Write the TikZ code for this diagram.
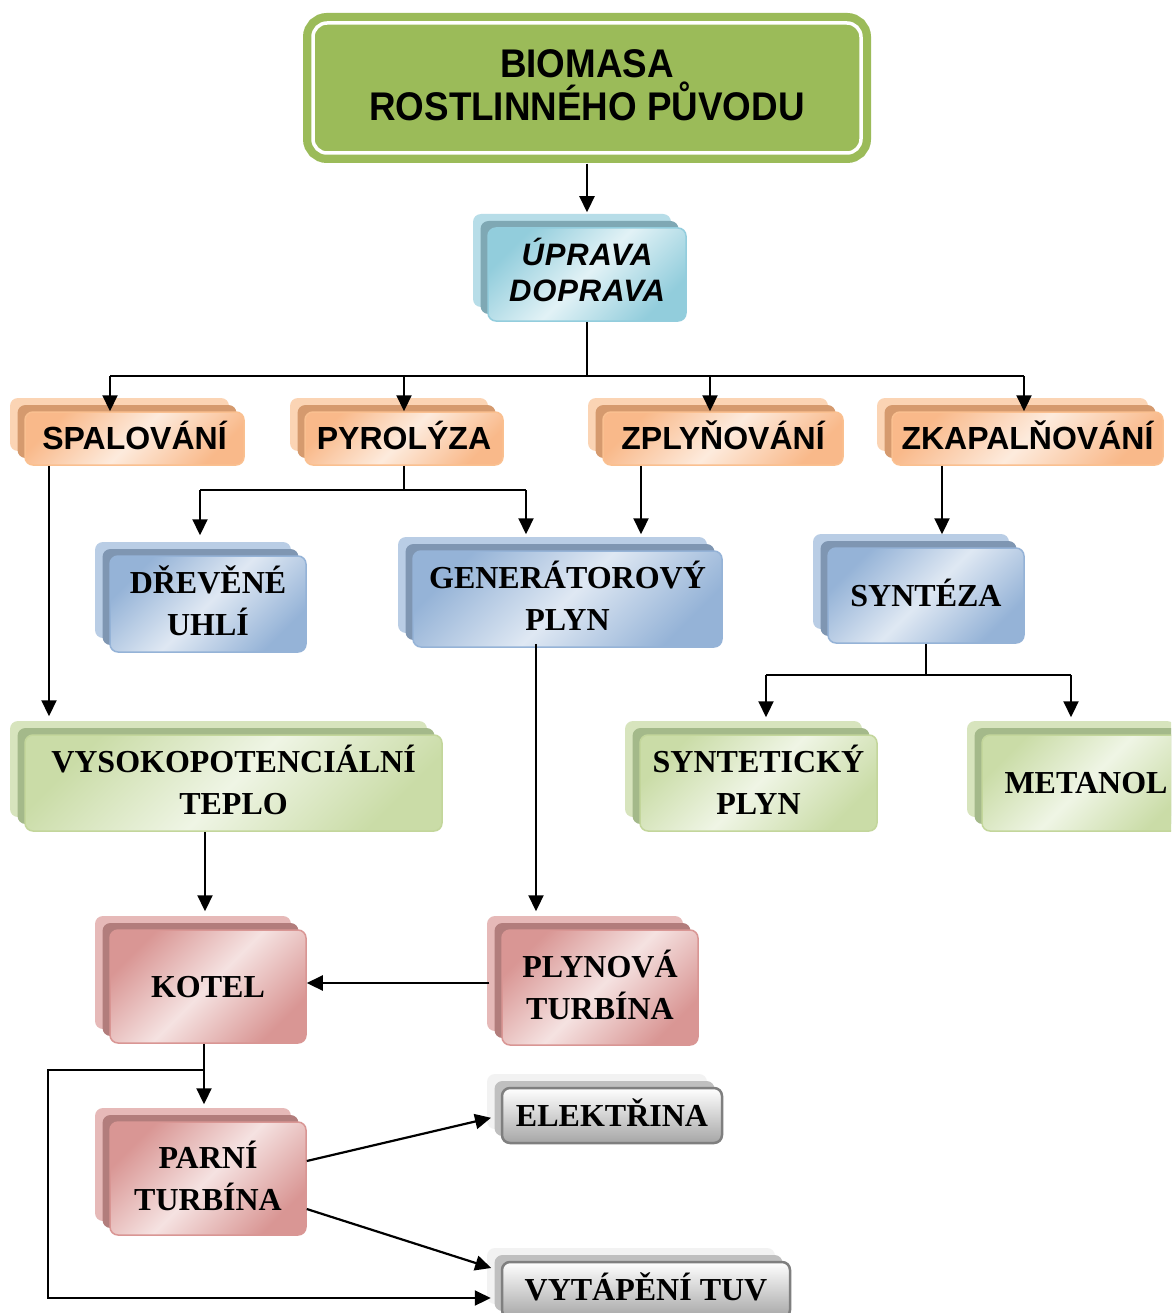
\documentclass[tikz,border=0pt]{standalone}
\usepackage{fontspec}
\setmainfont{Liberation Serif}
\setsansfont{Liberation Sans}
\newfontfamily\titlefont{Liberation Sans}[FakeStretch=0.92]
\newfontfamily\uprfont{Liberation Sans}[LetterSpace=3]
\usetikzlibrary{arrows.meta,shadows}
\definecolor{titgreen}{HTML}{9BBB59}
\definecolor{oBk}{HTML}{FBD4B4}\definecolor{oMd}{HTML}{D59A6E}\definecolor{oDk}{HTML}{F9B98A}\definecolor{oLt}{HTML}{FDEBDD}\definecolor{oBd}{HTML}{FAC090}
\definecolor{cBk}{HTML}{B7DDE8}\definecolor{cMd}{HTML}{7FA8B4}\definecolor{cDk}{HTML}{92CDDC}\definecolor{cLt}{HTML}{E2F2F6}\definecolor{cBd}{HTML}{93CDDD}
\definecolor{bBk}{HTML}{B9CDE5}\definecolor{bMd}{HTML}{7F96B2}\definecolor{bDk}{HTML}{95B3D7}\definecolor{bLt}{HTML}{DFE8F3}\definecolor{bBd}{HTML}{95B3D7}
\definecolor{gBk}{HTML}{D7E4BD}\definecolor{gMd}{HTML}{A4B98A}\definecolor{gDk}{HTML}{CADCA7}\definecolor{gLt}{HTML}{EFF5E5}\definecolor{gBd}{HTML}{C3D69B}
\definecolor{rBk}{HTML}{E6B9B8}\definecolor{rMd}{HTML}{B27D7C}\definecolor{rDk}{HTML}{D99694}\definecolor{rLt}{HTML}{F5E2E1}\definecolor{rBd}{HTML}{D99694}
\definecolor{kBk}{HTML}{F2F2F2}\definecolor{kMd}{HTML}{BFBFBF}\definecolor{kDk}{HTML}{A6A6A6}\definecolor{kBd}{HTML}{7F7F7F}
\tikzset{
  ln/.style={line width=2.2pt, draw=black},
  arr/.style={ln, -{Triangle[length=16pt,width=15pt]}},
  box/.style={rounded corners=8pt, inner sep=0pt, align=center, line width=1.5pt, text=black},
  serifbox/.style={box, font=\bfseries\fontsize{32}{42}\selectfont},
  sansbox/.style={box, font=\sffamily\bfseries\fontsize{32}{36}\selectfont, text height=26pt, text depth=3.1pt},
  one/.style={text height=25pt, text depth=3.8pt},
  two/.style={text height=67pt, text depth=3.8pt},
  layers/.style 2 args={
    general shadow={shadow xshift=-15pt, shadow yshift=14pt, fill=#1, draw=none},
    general shadow={shadow xshift=-7.5pt, shadow yshift=7pt, fill=#2, draw=none}},
  diag/.style n args={3}{draw=#3, left color=#1, right color=#1, middle color=#2, shading angle=45},
  orangebox/.style={sansbox, layers={oBk}{oMd}, diag={oDk}{oLt}{oBd}},
  cyanbox/.style={box, font=\uprfont\bfseries\itshape\fontsize{31}{36}\selectfont,
    text height=56.2pt, text depth=3pt, layers={cBk}{cMd}, diag={cDk}{cLt}{cBd}},
  bluebox/.style={serifbox, layers={bBk}{bMd}, diag={bDk}{bLt}{bBd}},
  greenbox/.style={serifbox, layers={gBk}{gMd}, diag={gDk}{gLt}{gBd}},
  redbox/.style={serifbox, layers={rBk}{rMd}, diag={rDk}{rLt}{rBd}},
  graybox/.style={serifbox, one, line width=2.5pt, layers={kBk}{kMd}, draw=kBd, top color=white, bottom color=kDk},
  titlebox/.style={rounded corners=14pt, fill=titgreen, draw=white, line width=3.5pt,
    preaction={draw=titgreen, line width=20pt}, align=center, inner sep=0pt,
    font=\titlefont\bfseries\fontsize{40}{43}\selectfont, text=black,
    text height=69.6pt, text depth=4pt}
}
\begin{document}
\begin{tikzpicture}[x=1pt,y=-1pt]
\useasboundingbox (0,0) rectangle (1171,1313);
\clip (0,0) rectangle (1171,1313);
\fill[white] (0,0) rectangle (1171,1313);

% nodes
\node[titlebox, minimum width=548pt, minimum height=130pt] (bio) at (587,88) {BIOMASA\\ROSTLINNÉHO PŮVODU};
\node[cyanbox, minimum width=198pt, minimum height=93pt] (upr) at (587,274.5) {ÚPRAVA\\DOPRAVA};

\node[orangebox, minimum width=219pt, minimum height=53pt] (spal) at (134.5,438.5) {SPALOVÁNÍ};
\node[orangebox, minimum width=198pt, minimum height=53pt] (pyro) at (404,438.5) {PYROLÝZA};
\node[orangebox, minimum width=240pt, minimum height=53pt] (zply) at (723,438.5) {ZPLYŇOVÁNÍ};
\node[orangebox, minimum width=271pt, minimum height=53pt] (zkap) at (1027.5,438.5) {ZKAPALŇOVÁNÍ};

\node[bluebox, two, minimum width=196pt, minimum height=96pt] (drev) at (208,604) {DŘEVĚNÉ\\UHLÍ};
\node[bluebox, two, minimum width=309pt, minimum height=96pt] (gen) at (567.5,599) {GENERÁTOROVÝ\\PLYN};
\node[bluebox, one, minimum width=196pt, minimum height=95pt] (synt) at (926,595.5) {SYNTÉZA};

\node[greenbox, two, minimum width=417pt, minimum height=96pt] (vys) at (233.5,783) {VYSOKOPOTENCIÁLNÍ\\TEPLO};
\node[greenbox, two, minimum width=237pt, minimum height=96pt] (synpl) at (758.5,783) {SYNTETICKÝ\\PLYN};
\node[greenbox, one, minimum width=208pt, minimum height=96pt] (met) at (1086,783) {METANOL};

\node[redbox, one, minimum width=196pt, minimum height=113pt] (kotel) at (208,986.5) {KOTEL};
\node[redbox, two, minimum width=196pt, minimum height=115pt] (plyn) at (600,987.5) {PLYNOVÁ\\TURBÍNA};
\node[redbox, two, minimum width=196pt, minimum height=113pt] (parni) at (208,1178.5) {PARNÍ\\TURBÍNA};

\node[graybox, minimum width=220pt, minimum height=55pt] (elek) at (612,1115.5) {ELEKTŘINA};
\node[graybox, minimum width=288pt, minimum height=56pt] (vyt) at (646,1290) {VYTÁPĚNÍ TUV};

% helper coordinates
\coordinate (jU) at (587,376);
\coordinate (t1) at (110,376);
\coordinate (t2) at (404,376);
\coordinate (t3) at (710,376);
\coordinate (t4) at (1024,376);
\coordinate (jP) at (404,490);
\coordinate (p1) at (200,490);
\coordinate (p2) at (526,490);
\coordinate (xs) at (49,0);
\coordinate (xz) at (641,0);
\coordinate (xk) at (942,0);
\coordinate (jS) at (926,675);
\coordinate (y1) at (766,675);
\coordinate (y2) at (1071,675);
\coordinate (xv) at (205,0);
\coordinate (xg) at (536,0);
\coordinate (yk) at (0,983);
\coordinate (pw) at ([xshift=-12pt]plyn.west);
\coordinate (xp) at (204,0);
\coordinate (jK) at (204,1070);
\coordinate (lA) at (48,1070);
\coordinate (lB) at (48,1298);
\coordinate (ve) at ([yshift=19pt]vyt.west);

% connectors
\draw[arr, shorten <=9pt, shorten >=15pt] (bio.south) -- (bio.south |- upr.north);
\draw[ln] (upr.south) -- (jU);
\draw[ln] (t1) -- (t4);
\draw[arr] (t1) -- (t1 |- spal.north);
\draw[arr] (t2) -- (t2 |- pyro.north);
\draw[arr] (t3) -- (t3 |- zply.north);
\draw[arr] (t4) -- (t4 |- zkap.north);

\draw[ln] (pyro.south) -- (jP);
\draw[ln] (p1) -- (p2);
\draw[arr, shorten >=20pt] (p1) -- (p1 |- drev.north);
\draw[arr, shorten >=16pt] (p2) -- (p2 |- gen.north);

\draw[arr, shorten >=18pt] (spal.south -| xs) -- (xs |- vys.north);
\draw[arr, shorten >=16pt] (zply.south -| xz) -- (xz |- gen.north);
\draw[arr, shorten >=13pt] (zkap.south -| xk) -- (xk |- synt.north);

\draw[ln] (synt.south) -- (jS);
\draw[ln] (y1) -- (y2);
\draw[arr, shorten >=17pt] (y1) -- (y1 |- synpl.north);
\draw[arr, shorten >=17pt] (y2) -- (y2 |- met.north);

\draw[arr, shorten >=18pt] (vys.south -| xv) -- (xv |- kotel.north);
\draw[arr, shorten <=-4pt, shorten >=18pt] (gen.south -| xg) -- (xg |- plyn.north);
\draw[arr] (pw |- yk) -- (kotel.east |- yk);
\draw[arr, shorten >=17pt] (kotel.south -| xp) -- (xp |- parni.north);
\draw[arr, shorten >=10pt] (jK) -- (lA) -- (lB) -- (vyt.west |- lB);
\draw[arr, shorten >=10pt] ([yshift=17.5pt]parni.east) -- (elek.west);
\draw[arr, shorten >=10pt] ([yshift=-30.5pt]parni.east) -- (ve);
\end{tikzpicture}
\end{document}
